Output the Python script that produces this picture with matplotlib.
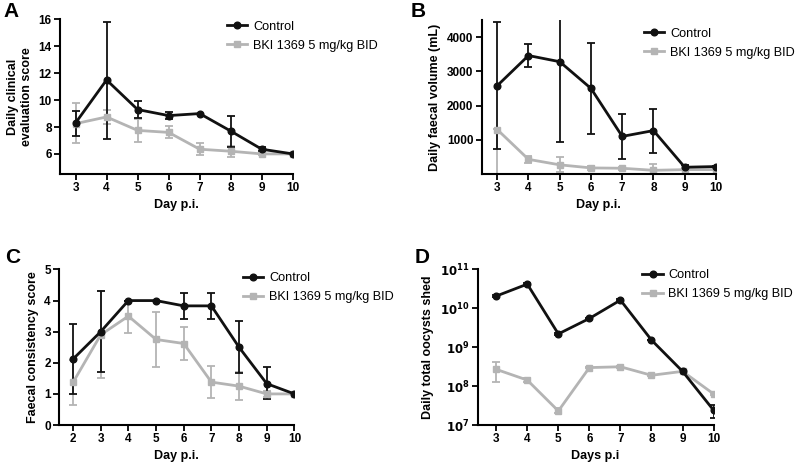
import matplotlib
matplotlib.use("Agg")
import matplotlib.pyplot as plt
import numpy as np

plt.rcParams['font.family'] = ['Liberation Sans', 'DejaVu Sans']

days_ab = [3, 4, 5, 6, 7, 8, 9, 10]
days_c = [2, 3, 4, 5, 6, 7, 8, 9, 10]
days_d = [3, 4, 5, 6, 7, 8, 9, 10]
labels = ['Control', 'BKI 1369 5 mg/kg BID']

# A: clinical score (mean, lower, upper)
a_ctrl = [8.3, 11.5, 9.3, 8.85, 9.0, 7.7, 6.35, 6.0]
a_ctrl_lo = [7.3, 7.1, 8.7, 8.6, 9.0, 6.5, 6.2, 6.0]
a_ctrl_hi = [9.2, 15.8, 9.9, 9.1, 9.0, 8.8, 6.5, 6.0]
a_bki = [8.25, 8.75, 7.75, 7.6, 6.35, 6.2, 6.0, 6.0]
a_bki_lo = [6.8, 8.25, 6.9, 7.15, 5.95, 5.8, 5.9, 6.0]
a_bki_hi = [9.75, 9.25, 8.6, 8.1, 6.8, 6.6, 6.1, 6.0]

# B: faecal volume
b_ctrl = [2580, 3460, 3280, 2500, 1100, 1270, 200, 220]
b_ctrl_lo = [730, 3120, 940, 1180, 450, 630, 130, 190]
b_ctrl_hi = [4440, 3800, 5200, 3820, 1740, 1900, 270, 250]
b_bki = [1300, 430, 270, 180, 170, 110, 130, 130]
b_bki_lo = [0, 330, 60, 130, 120, 0, 110, 110]
b_bki_hi = [1320, 540, 490, 230, 220, 300, 150, 150]

# C: faecal consistency
c_ctrl = [2.12, 3.0, 4.0, 4.0, 3.83, 3.83, 2.5, 1.33, 1.0]
c_ctrl_lo = [1.0, 1.7, 4.0, 4.0, 3.42, 3.42, 1.67, 0.83, 1.0]
c_ctrl_hi = [3.25, 4.3, 4.0, 4.0, 4.23, 4.23, 3.33, 1.85, 1.0]
c_bki = [1.37, 2.9, 3.5, 2.75, 2.62, 1.38, 1.25, 1.0, 1.0]
c_bki_lo = [0.65, 1.52, 2.97, 1.87, 2.1, 0.87, 0.8, 0.9, 1.0]
c_bki_hi = [2.1, 4.3, 4.0, 3.63, 3.15, 1.9, 1.7, 1.1, 1.0]

# D: oocysts shed
d_ctrl = [2.07e10, 4.2e10, 2.2e9, 5.5e9, 1.63e10, 1.53e9, 2.4e8, 2.4e7]
d_ctrl_lo = [2.0e10, 4.0e10, 2.1e9, 5.3e9, 1.58e10, 1.5e9, 2.3e8, 1.5e7]
d_ctrl_hi = [2.15e10, 4.4e10, 2.3e9, 5.7e9, 1.7e10, 1.56e9, 2.5e8, 3.3e7]
d_bki = [2.7e8, 1.43e8, 2.3e7, 3.0e8, 3.15e8, 1.9e8, 2.4e8, 6.3e7]
d_bki_lo = [1.3e8, 1.25e8, 2.0e7, 2.85e8, 3.0e8, 1.8e8, 2.3e8, 6.0e7]
d_bki_hi = [4.2e8, 1.65e8, 2.8e7, 3.15e8, 3.3e8, 2.0e8, 2.5e8, 6.6e7]

black = '#111111'
gray = '#b4b4b4'

fig = plt.figure(figsize=(8, 4.63), dpi=100)


def panel(rect, x, c, clo, chi, b, blo, bhi, xlim, ylim, ylabel, xlabel,
          letter, leg_xy, log=False):
    ax = fig.add_axes(rect)
    handles = {}
    for y, lo, hi, col, mk, lab in [(b, blo, bhi, gray, 's', labels[1]),
                                    (c, clo, chi, black, 'o', labels[0])]:
        y = np.array(y, dtype=float)
        err = [y - np.array(lo), np.array(hi) - y]
        ax.errorbar(x, y, yerr=err, color=col, marker=mk, markersize=4.8,
                    linewidth=2, elinewidth=1.3, capsize=3, capthick=1.3)
        handles[lab], = ax.plot([], [], color=col, marker=mk, markersize=4.8,
                                linewidth=2)
    if log:
        ax.set_yscale('log')
    ax.set_xlim(*xlim)
    ax.set_ylim(*ylim)
    ax.set_xticks(x)
    for s in ['top', 'right']:
        ax.spines[s].set_visible(False)
    for s in ['left', 'bottom']:
        ax.spines[s].set_linewidth(1.5)
    ax.tick_params(width=1.3, length=4, labelsize=8.5, pad=2)
    for t in ax.get_xticklabels() + ax.get_yticklabels():
        t.set_fontweight('bold')
    ax.set_xlabel(xlabel, fontsize=9, fontweight='bold', labelpad=3)
    ax.set_ylabel(ylabel, fontsize=9, fontweight='bold', labelpad=4)
    fig.text(letter[0], letter[1], letter[2], fontsize=15, fontweight='bold',
             va='top', ha='left')
    ax.legend([handles[l] for l in labels], labels, loc='upper left',
              bbox_to_anchor=leg_xy, bbox_transform=fig.transFigure,
              frameon=False, fontsize=9.1, handlelength=1.6, handletextpad=0.45,
              labelspacing=0.55, borderpad=0, borderaxespad=0)
    return ax


axA = panel([0.075, 0.624, 0.291, 0.334], days_ab, a_ctrl, a_ctrl_lo, a_ctrl_hi,
            a_bki, a_bki_lo, a_bki_hi, (2.5, 10), (4.5, 16),
            'Daily clinical\nevaluation score', 'Day p.i.',
            (0.004, 0.995, 'A'), (0.284, 0.955))
axA.set_yticks([6, 8, 10, 12, 14, 16])

axB = panel([0.602, 0.624, 0.293, 0.333], days_ab, b_ctrl, b_ctrl_lo, b_ctrl_hi,
            b_bki, b_bki_lo, b_bki_hi, (2.5, 10), (0, 4500),
            'Daily faecal volume (mL)', 'Day p.i.',
            (0.513, 0.995, 'B'), (0.805, 0.94))
axB.set_yticks([1000, 2000, 3000, 4000])

axC = panel([0.074, 0.082, 0.294, 0.336], days_c, c_ctrl, c_ctrl_lo, c_ctrl_hi,
            c_bki, c_bki_lo, c_bki_hi, (1.5, 10), (0, 5),
            'Faecal consistency score', 'Day p.i.',
            (0.006, 0.465, 'C'), (0.304, 0.4125))
axC.set_yticks([0, 1, 2, 3, 4, 5])

axD = panel([0.597, 0.082, 0.295, 0.336], days_d, d_ctrl, d_ctrl_lo, d_ctrl_hi,
            d_bki, d_bki_lo, d_bki_hi, (2.4, 10), (1e7, 1e11),
            'Daily total oocysts shed', 'Days p.i',
            (0.518, 0.465, 'D'), (0.803, 0.419), log=True)
axD.set_yticks([1e7, 1e8, 1e9, 1e10, 1e11])
axD.minorticks_off()
axD.set_yticklabels([r'$\mathbf{10^{%d}}$' % k for k in range(7, 12)])

fig.savefig('out.png', dpi=100)
